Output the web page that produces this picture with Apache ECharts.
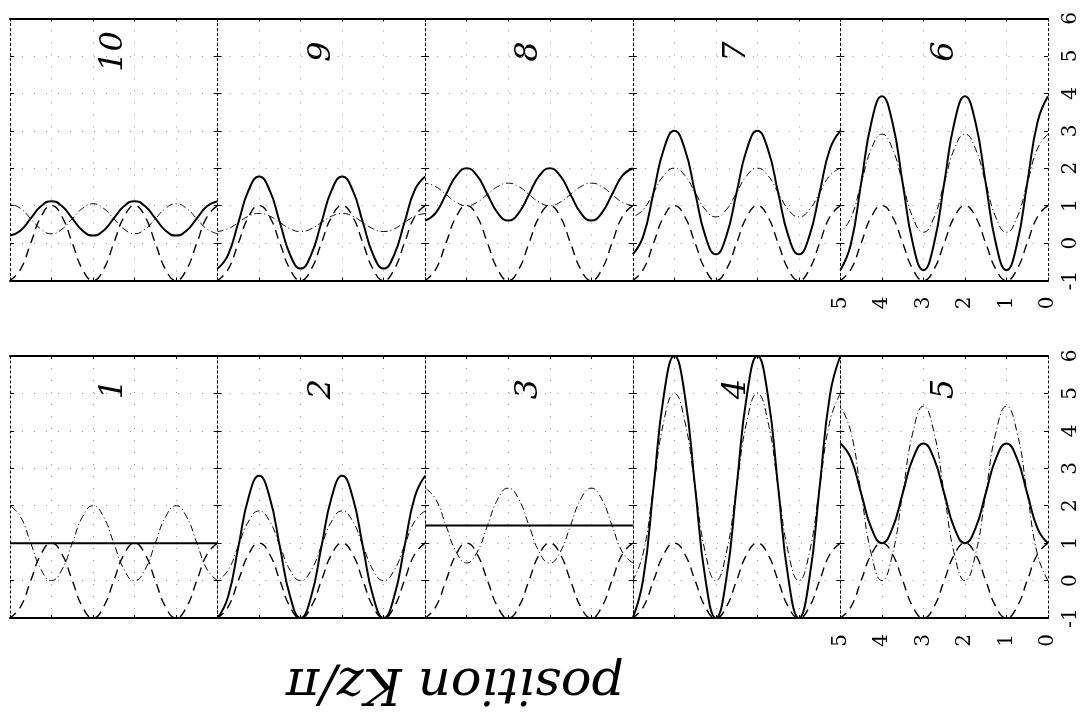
<!DOCTYPE html>
<html><head><meta charset="utf-8">
<script src="https://cdn.jsdelivr.net/npm/echarts@6/dist/echarts.min.js"></script>
<style>html,body{margin:0;padding:0;background:#fff}#c{width:1084px;height:721px}</style>
</head><body><div id="c"></div>
<script>
// position Kz/pi sampled every 0.25
const xs = [0,0.25,0.5,0.75,1,1.25,1.5,1.75,2,2.25,2.5,2.75,3,3.25,3.5,3.75,4,4.25,4.5,4.75,5];
const xTickLabels = ['0','1','2','3','4','5'];
const yTickLabels = ['-1','0','1','2','3','4','5','6'];
const topRowNames = ['10','9','8','7','6'];
const bottomRowNames = ['1','2','3','4','5'];

// panel 1
const p1Solid   = [1,1,1,1,1,1,1,1,1,1,1,1,1,1,1,1,1,1,1,1,1];
const p1Dash    = [1,0.71,0,-0.71,-1,-0.71,0,0.71,1,0.71,0,-0.71,-1,-0.71,0,0.71,1,0.71,0,-0.71,-1];
const p1DashDot = [0,0.29,1,1.71,2,1.71,1,0.29,0,0.29,1,1.71,2,1.71,1,0.29,0,0.29,1,1.71,2];
// panel 2
const p2Solid   = [2.8,2.24,0.9,-0.44,-1,-0.44,0.9,2.24,2.8,2.24,0.9,-0.44,-1,-0.44,0.9,2.24,2.8,2.24,0.9,-0.44,-1];
const p2Dash    = [1,0.71,0,-0.71,-1,-0.71,0,0.71,1,0.71,0,-0.71,-1,-0.71,0,0.71,1,0.71,0,-0.71,-1];
const p2DashDot = [1.86,1.59,0.93,0.27,0,0.27,0.93,1.59,1.86,1.59,0.93,0.27,0,0.27,0.93,1.59,1.86,1.59,0.93,0.27,0];
// panel 3
const p3Solid   = [1.47,1.47,1.47,1.47,1.47,1.47,1.47,1.47,1.47,1.47,1.47,1.47,1.47,1.47,1.47,1.47,1.47,1.47,1.47,1.47,1.47];
const p3Dash    = [1,0.71,0,-0.71,-1,-0.71,0,0.71,1,0.71,0,-0.71,-1,-0.71,0,0.71,1,0.71,0,-0.71,-1];
const p3DashDot = [0.47,0.76,1.47,2.18,2.47,2.18,1.47,0.76,0.47,0.76,1.47,2.18,2.47,2.18,1.47,0.76,0.47,0.76,1.47,2.18,2.47];
// panel 4
const p4Solid   = [6,4.97,2.5,0.03,-1,0.03,2.5,4.97,6,4.97,2.5,0.03,-1,0.03,2.5,4.97,6,4.97,2.5,0.03,-1];
const p4Dash    = [1,0.71,0,-0.71,-1,-0.71,0,0.71,1,0.71,0,-0.71,-1,-0.71,0,0.71,1,0.71,0,-0.71,-1];
const p4DashDot = [5,4.27,2.5,0.73,0,0.73,2.5,4.27,5,4.27,2.5,0.73,0,0.73,2.5,4.27,5,4.27,2.5,0.73,0];
// panel 5
const p5Solid   = [1,1.39,2.33,3.27,3.66,3.27,2.33,1.39,1,1.39,2.33,3.27,3.66,3.27,2.33,1.39,1,1.39,2.33,3.27,3.66];
const p5Dash    = [1,0.71,0,-0.71,-1,-0.71,0,0.71,1,0.71,0,-0.71,-1,-0.71,0,0.71,1,0.71,0,-0.71,-1];
const p5DashDot = [0,0.68,2.33,3.98,4.66,3.98,2.33,0.68,0,0.68,2.33,3.98,4.66,3.98,2.33,0.68,0,0.68,2.33,3.98,4.66];
// panel 6
const p6Solid   = [3.92,3.24,1.6,-0.04,-0.72,-0.04,1.6,3.24,3.92,3.24,1.6,-0.04,-0.72,-0.04,1.6,3.24,3.92,3.24,1.6,-0.04,-0.72];
const p6Dash    = [1,0.71,0,-0.71,-1,-0.71,0,0.71,1,0.71,0,-0.71,-1,-0.71,0,0.71,1,0.71,0,-0.71,-1];
const p6DashDot = [2.91,2.53,1.6,0.67,0.29,0.67,1.6,2.53,2.91,2.53,1.6,0.67,0.29,0.67,1.6,2.53,2.91,2.53,1.6,0.67,0.29];
// panel 7
const p7Solid   = [3,2.52,1.35,0.18,-0.3,0.18,1.35,2.52,3,2.52,1.35,0.18,-0.3,0.18,1.35,2.52,3,2.52,1.35,0.18,-0.3];
const p7Dash    = [1,0.71,0,-0.71,-1,-0.71,0,0.71,1,0.71,0,-0.71,-1,-0.71,0,0.71,1,0.71,0,-0.71,-1];
const p7DashDot = [2,1.81,1.35,0.89,0.7,0.89,1.35,1.81,2,1.81,1.35,0.89,0.7,0.89,1.35,1.81,2,1.81,1.35,0.89,0.7];
// panel 8
const p8Solid   = [2,1.8,1.3,0.8,0.6,0.8,1.3,1.8,2,1.8,1.3,0.8,0.6,0.8,1.3,1.8,2,1.8,1.3,0.8,0.6];
const p8Dash    = [1,0.71,0,-0.71,-1,-0.71,0,0.71,1,0.71,0,-0.71,-1,-0.71,0,0.71,1,0.71,0,-0.71,-1];
const p8DashDot = [1,1.09,1.3,1.51,1.6,1.51,1.3,1.09,1,1.09,1.3,1.51,1.6,1.51,1.3,1.09,1,1.09,1.3,1.51,1.6];
// panel 9
const p9Solid   = [1.78,1.42,0.55,-0.32,-0.68,-0.32,0.55,1.42,1.78,1.42,0.55,-0.32,-0.68,-0.32,0.55,1.42,1.78,1.42,0.55,-0.32,-0.68];
const p9Dash    = [1,0.71,0,-0.71,-1,-0.71,0,0.71,1,0.71,0,-0.71,-1,-0.71,0,0.71,1,0.71,0,-0.71,-1];
const p9DashDot = [0.79,0.72,0.55,0.38,0.31,0.38,0.55,0.72,0.79,0.72,0.55,0.38,0.31,0.38,0.55,0.72,0.79,0.72,0.55,0.38,0.31];
// panel 10
const p10Solid   = [1.12,0.99,0.66,0.33,0.2,0.33,0.66,0.99,1.12,0.99,0.66,0.33,0.2,0.33,0.66,0.99,1.12,0.99,0.66,0.33,0.2];
const p10Dash    = [1,0.71,0,-0.71,-1,-0.71,0,0.71,1,0.71,0,-0.71,-1,-0.71,0,0.71,1,0.71,0,-0.71,-1];
const p10DashDot = [0.25,0.37,0.65,0.93,1.05,0.93,0.65,0.37,0.25,0.37,0.65,0.93,1.05,0.93,0.65,0.37,0.25,0.37,0.65,0.93,1.05];

const panelData = {
  '1':[p1Solid,p1Dash,p1DashDot], '2':[p2Solid,p2Dash,p2DashDot], '3':[p3Solid,p3Dash,p3DashDot],
  '4':[p4Solid,p4Dash,p4DashDot], '5':[p5Solid,p5Dash,p5DashDot], '6':[p6Solid,p6Dash,p6DashDot],
  '7':[p7Solid,p7Dash,p7DashDot], '8':[p8Solid,p8Dash,p8DashDot], '9':[p9Solid,p9Dash,p9DashDot],
  '10':[p10Solid,p10Dash,p10DashDot]
};

const LEFT = 10, PW = 207.6, H = 262, TOPS = [18.5, 356];
const SERIF = '"DejaVu Serif", "Liberation Serif", serif';
const grids = [], xAxes = [], yAxes = [], series = [], graphics = [];
const gridDotted = {show:true, lineStyle:{color:'#999', width:1, type:[1,11]}};
const styles = [
  {color:'#000', width:2, type:'solid'},
  {color:'#000', width:1.4, type:[9,6]},
  {color:'#000', width:1, type:[7,3,1,3]}
];

[topRowNames, bottomRowNames].forEach((row, r) => {
  row.forEach((name, c) => {
    const gi = grids.length;
    const last = c === row.length - 1;
    grids.push({left: LEFT + c*PW, top: TOPS[r], width: PW, height: H});
    const xBase = {gridIndex: gi, type:'value', min:0, max:5, interval:1, inverse:true};
    xAxes.push(Object.assign({}, xBase, {
      position:'bottom',
      axisLine:{onZero:false, lineStyle:{color:'#000', width:2}},
      axisTick:{inside:true, length:3, lineStyle:{color:'#000'}},
      axisLabel:{show:last, rotate:90, margin:16, color:'#000', fontSize:20, fontFamily:SERIF,
                 formatter: v => xTickLabels[v]},
      splitLine: gridDotted
    }));
    xAxes.push(Object.assign({}, xBase, {
      position:'top',
      axisLine:{onZero:false, lineStyle:{color:'#000', width:2}},
      axisTick:{inside:true, length:3, lineStyle:{color:'#000'}},
      axisLabel:{show:false}, splitLine:{show:false}
    }));
    const yBase = {gridIndex: gi, type:'value', min:-1, max:6, interval:1};
    yAxes.push(Object.assign({}, yBase, {
      position:'left',
      axisLine:{show:true, onZero:false, lineStyle:{color:'#000', width:1, type:[2,3]}},
      axisTick:{show:true, inside:true, length:4, lineStyle:{color:'#000'}},
      axisLabel:{show:false},
      splitLine: gridDotted
    }));
    yAxes.push(Object.assign({}, yBase, {
      position:'right',
      axisLine:{show:true, onZero:false, lineStyle:{color:'#000', width:1, type:[2,3]}},
      axisTick:{show:true, inside:true, length:4, lineStyle:{color:'#000'}},
      axisLabel:{show:last, rotate:90, margin:13, color:'#000', fontSize:20, fontFamily:SERIF,
                 formatter: v => yTickLabels[v + 1]},
      splitLine:{show:false}
    }));
    panelData[name].forEach((arr, k) => {
      series.push({
        type:'line', xAxisIndex: gi*2, yAxisIndex: gi*2, smooth:0.5,
        showSymbol:false, clip:true, silent:true, animation:false,
        lineStyle: styles[k],
        data: xs.map((x, i) => [x, arr[i]])
      });
    });
    graphics.push({
      type:'text', x: LEFT + c*PW + PW/2, y: TOPS[r] + 33, rotation: Math.PI/2,
      style:{text: name, fill:'#000', font:'italic 32px ' + SERIF, textAlign:'center', textVerticalAlign:'middle'}
    });
  });
});

graphics.push({
  type:'text', x: 455, y: 682, rotation: Math.PI,
  style:{text:'position Kz/π', fill:'#000', font:'italic 51px ' + SERIF, textAlign:'center', textVerticalAlign:'middle'}
});

const chart = echarts.init(document.getElementById('c'));
chart.setOption({
  animation:false,
  grid: grids, xAxis: xAxes, yAxis: yAxes, series: series, graphic: graphics
});
</script></body></html>
